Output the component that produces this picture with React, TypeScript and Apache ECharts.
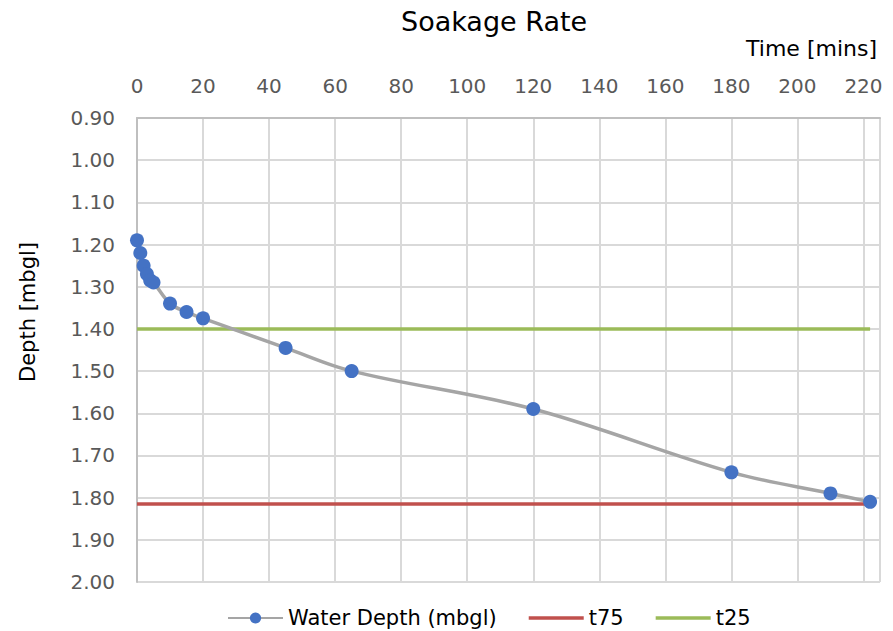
import React, { useEffect, useRef } from "react";
import * as echarts from "echarts";

const timeMins = [0, 1, 2, 3, 4, 5, 10, 15, 20, 45, 65, 120, 180, 210, 222];
const waterDepth = [1.19, 1.22, 1.25, 1.27, 1.285, 1.29, 1.34, 1.36, 1.375, 1.445, 1.5, 1.59, 1.74, 1.79, 1.81];
const t75Line = [[0, 1.815], [222, 1.815]];
const t25Line = [[0, 1.4], [222, 1.4]];

export default function App() {
  const ref = useRef<HTMLDivElement>(null);
  useEffect(() => {
    if (!ref.current) return;
    const chart = echarts.init(ref.current, null, { renderer: "svg" });
    const font = "'DejaVu Sans', Verdana, sans-serif";
    const lineIcon = "path://M0,0H55V3.5H0Z";
    chart.setOption({
      animation: false,
      textStyle: { fontFamily: font },
      title: {
        text: "Soakage Rate",
        left: 396,
        top: 3,
        textStyle: { fontFamily: font, fontSize: 27, fontWeight: "normal", color: "#000" },
      },
      graphic: [
        {
          type: "text",
          right: 16,
          top: 37,
          style: { text: "Time [mins]", font: `22px ${font}`, fill: "#000" },
        },
        {
          type: "text",
          x: 28,
          y: 312,
          rotation: Math.PI / 2,
          style: {
            text: "Depth [mbgl]",
            font: `21px ${font}`,
            fill: "#000",
            align: "center",
            verticalAlign: "middle",
          },
        },
      ],
      grid: { left: 137, right: 13, top: 118, bottom: 49, containLabel: false },
      legend: {
        top: 601,
        left: 222,
        itemWidth: 55,
        itemHeight: 14,
        itemGap: 32,
        symbolKeepAspect: true,
        textStyle: { fontFamily: font, fontSize: 21, color: "#000", lineHeight: 24 },
        data: [
          { name: "Water Depth (mbgl)" },
          { name: "t75", icon: lineIcon },
          { name: "t25", icon: lineIcon },
        ],
      },
      xAxis: {
        type: "value",
        position: "top",
        min: 0,
        max: 225,
        interval: 20,
        axisLine: { show: true, lineStyle: { color: "#bfbfbf", width: 2 } },
        axisTick: { show: false },
        axisLabel: {
          fontFamily: font,
          fontSize: 20,
          color: "#595959",
          margin: 22,
          formatter: (v: number) => (v % 20 === 0 ? String(v) : ""),
        },
        splitLine: { show: true, lineStyle: { color: "#d9d9d9", width: 2 } },
      },
      yAxis: {
        type: "value",
        inverse: true,
        min: 0.9,
        max: 2.0,
        interval: 0.1,
        axisLine: { show: true, lineStyle: { color: "#bfbfbf", width: 2 } },
        axisTick: { show: false },
        axisLabel: {
          fontFamily: font,
          fontSize: 20,
          color: "#595959",
          margin: 22,
          formatter: (v: number) => v.toFixed(2),
        },
        splitLine: { show: true, lineStyle: { color: "#d9d9d9", width: 2 } },
      },
      series: [
        {
          name: "t75",
          type: "line",
          data: t75Line,
          symbol: "none",
          lineStyle: { color: "#c0504d", width: 3.5 },
          itemStyle: { color: "#c0504d" },
          z: 2,
        },
        {
          name: "t25",
          type: "line",
          data: t25Line,
          symbol: "none",
          lineStyle: { color: "#9bbb59", width: 3.5 },
          itemStyle: { color: "#9bbb59" },
          z: 2,
        },
        {
          name: "Water Depth (mbgl)",
          type: "line",
          data: timeMins.map((t, i) => [t, waterDepth[i]]),
          smooth: 0.35,
          symbol: "circle",
          symbolSize: 14,
          showAllSymbol: true,
          lineStyle: { color: "#a5a5a5", width: 3.5 },
          itemStyle: { color: "#4472c4" },
          z: 3,
        },
      ],
    });
    return () => chart.dispose();
  }, []);
  return <div ref={ref} style={{ position: "absolute", left: 0, top: 0, width: 893, height: 631 }} />;
}
